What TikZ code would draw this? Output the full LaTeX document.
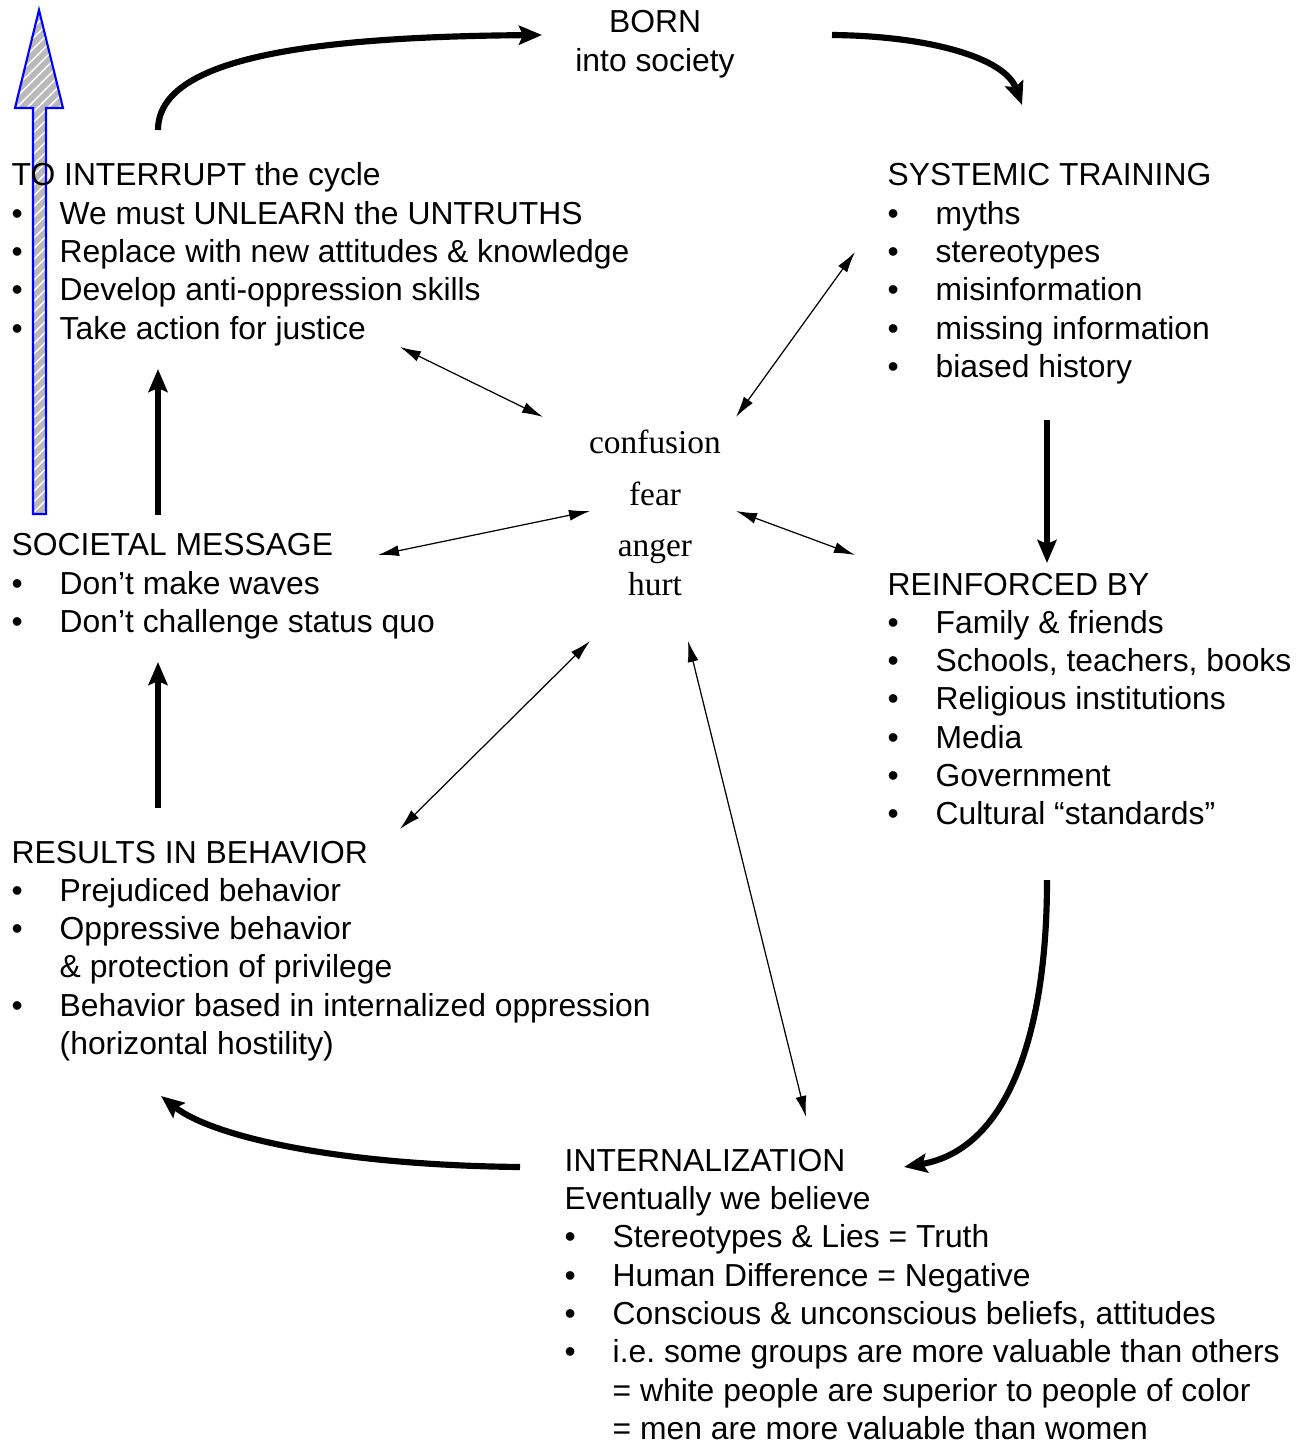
\documentclass[tikz,border=0pt]{standalone}
\usepackage{fontspec}
\setmainfont{Liberation Sans}
\newfontfamily\feelfont{Liberation Serif}
\usetikzlibrary{arrows.meta,patterns}

\newcommand{\itm}{\makebox[0.48cm][l]{\textbullet}}
\newcommand{\gap}{\hspace*{0.48cm}}

\begin{document}
\begin{tikzpicture}[x=0.01cm, y=-0.01cm,
    block/.style={anchor=base west, inner sep=0pt, font=\fontsize{9.05}{10.9}\selectfont},
    feel/.style={anchor=base, inner sep=0pt, font=\feelfont\fontsize{9.5}{11}\selectfont},
    cycle arrow/.style={line width=1.75pt, -{Stealth[length=0.23cm, width=0.19cm, inset=0.04cm]}},
    feel arrow/.style={line width=0.35pt, {Latex[length=0.21cm, width=0.11cm]}-{Latex[length=0.21cm, width=0.11cm]}}]
    \useasboundingbox (0,0) rectangle (1309,1443);

    % Nagy csikos nyil (bal szel)
    \fill[gray!55] (33,514) -- (33,108) -- (15,108) -- (39,10) -- (63,108) -- (46,108) -- (46,514) -- cycle;
    \fill[pattern=north east lines, pattern color=white] (33,514) -- (33,108) -- (15,108) -- (39,10) -- (63,108) -- (46,108) -- (46,514) -- cycle;
    \draw[blue, line width=0.6pt] (33,514) -- (33,108) -- (15,108) -- (39,10) -- (63,108) -- (46,108) -- (46,514) -- cycle;

    % Szovegblokkok
    \node[block, anchor=base] (born) at (655,33) {\begin{tabular}[t]{@{}c@{}}BORN\\ into society\end{tabular}};

    \node[block] (interrupt) at (11,186) {\begin{tabular}[t]{@{}l@{}}
        TO INTERRUPT the cycle\\
        \itm We must UNLEARN the UNTRUTHS\\
        \itm Replace with new attitudes \& knowledge\\
        \itm Develop anti-oppression skills\\
        \itm Take action for justice\end{tabular}};

    \node[block] (systemic) at (887,186) {\begin{tabular}[t]{@{}l@{}}
        SYSTEMIC TRAINING\\
        \itm myths\\
        \itm stereotypes\\
        \itm misinformation\\
        \itm missing information\\
        \itm biased history\end{tabular}};

    \node[block] (societal) at (11,556) {\begin{tabular}[t]{@{}l@{}}
        SOCIETAL MESSAGE\\
        \itm Don’t make waves\\
        \itm Don’t challenge status quo\end{tabular}};

    \node[block] (reinforced) at (887,595) {\begin{tabular}[t]{@{}l@{}}
        REINFORCED BY\\
        \itm Family \& friends\\
        \itm Schools, teachers, books\\
        \itm Religious institutions\\
        \itm Media\\
        \itm Government\\
        \itm Cultural “standards”\end{tabular}};

    \node[block] (results) at (11,863) {\begin{tabular}[t]{@{}l@{}}
        RESULTS IN BEHAVIOR\\
        \itm Prejudiced behavior\\
        \itm Oppressive behavior\\
        \gap \& protection of privilege\\
        \itm Behavior based in internalized oppression\\
        \gap (horizontal hostility)\end{tabular}};

    \node[block] (internal) at (564,1171) {\begin{tabular}[t]{@{}l@{}}
        INTERNALIZATION\\
        Eventually we believe\\
        \itm Stereotypes \& Lies = Truth\\
        \itm Human Difference = Negative\\
        \itm Conscious \& unconscious beliefs, attitudes\\
        \itm i.e.\ some groups are more valuable than others\\
        \gap = white people are superior to people of color\\
        \gap = men are more valuable than women\end{tabular}};

    % Erzesek kozepen
    \node[feel] (confusion) at (655,454) {confusion};
    \node[feel] (fear) at (655,505) {fear};
    \node[feel] (anger) at (655,557) {anger};
    \node[feel] (hurt) at (655,595) {hurt};

    % Ciklus nyilak
    \draw[cycle arrow] (158,130) .. controls (158,60) and (300,37) .. (542,35);
    \draw[cycle arrow] (832,35) .. controls (930,36) and (1005,58) .. (1022,105);
    \draw[cycle arrow] (1047,420) -- (1047,563);
    \draw[cycle arrow] (1047,880) .. controls (1047,1040) and (1005,1150) .. (904,1167);
    \draw[cycle arrow] (520,1167) .. controls (330,1165) and (210,1135) .. (161,1096);
    \draw[cycle arrow] (158,808) -- (158,662);
    \draw[cycle arrow] (158,515) -- (158,369);

    % Vegpontok a vekony nyilakhoz
    \coordinate (intE) at (400,347);
    \coordinate (feelNW) at (543,417);
    \coordinate (sysW) at (855,252);
    \coordinate (feelNE) at (736,417);
    \coordinate (socE) at (378,555);
    \coordinate (feelW) at (590,511);
    \coordinate (feelE) at (736,511);
    \coordinate (reiW) at (855,555);
    \coordinate (resNE) at (400,829);
    \coordinate (feelSW) at (590,641);
    \coordinate (feelS) at (688,641);
    \coordinate (intN) at (806,1117);

    % Vekony ketiranyu nyilak
    \draw[feel arrow] (intE) -- (feelNW);
    \draw[feel arrow] (sysW) -- (feelNE);
    \draw[feel arrow] (socE) -- (feelW);
    \draw[feel arrow] (feelE) -- (reiW);
    \draw[feel arrow] (resNE) -- (feelSW);
    \draw[feel arrow] (feelS) -- (intN);

\end{tikzpicture}
\end{document}
